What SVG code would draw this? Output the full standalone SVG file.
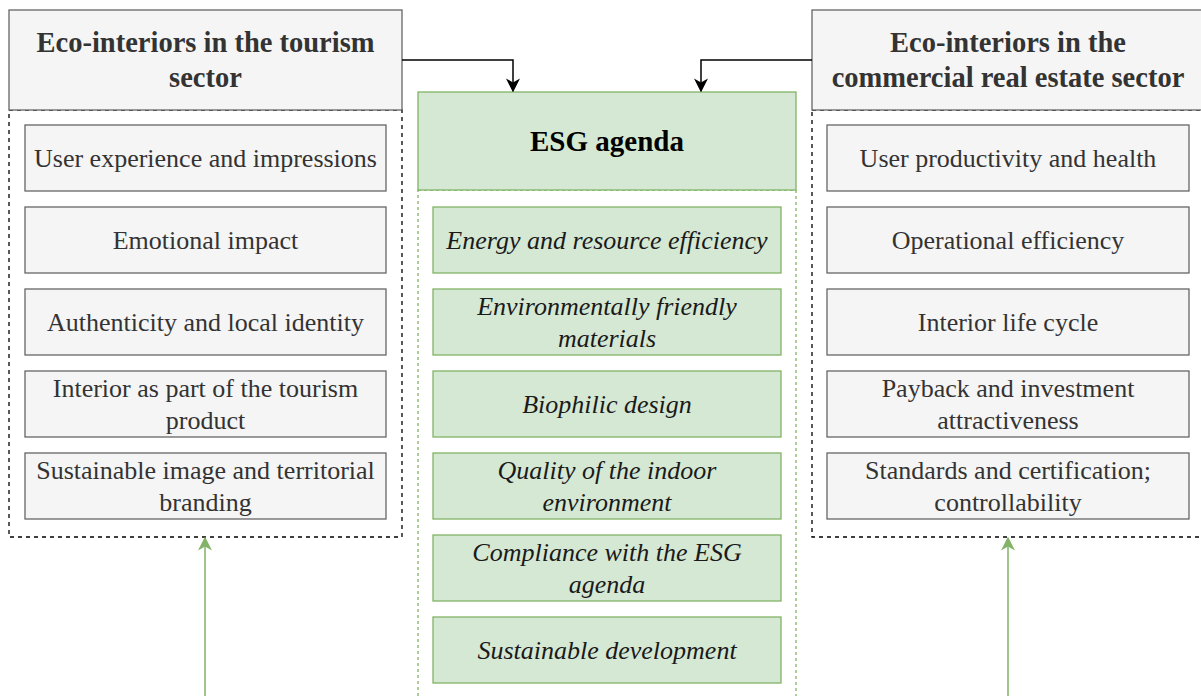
<svg xmlns="http://www.w3.org/2000/svg" width="1201" height="696" viewBox="0 0 1201 696">
  <style>
    .hdr { fill: #f5f5f5; stroke: #666666; stroke-width: 1.3; }
    .item { fill: #f5f5f5; stroke: #666666; stroke-width: 1.3; }
    .gitem { fill: #d5e8d4; stroke: #82b366; stroke-width: 1.3; }
    .dash { fill: none; stroke: #000000; stroke-width: 1.3; stroke-dasharray: 4 4; }
    .gdash { fill: none; stroke: #82b366; stroke-width: 1.3; stroke-dasharray: 3 3; }
    .htxt { font-family: "Liberation Serif", "Times New Roman", serif; font-weight: bold; font-size: 28.5px; fill: #333333; text-anchor: middle; }
    .ttxt { font-family: "Liberation Serif", "Times New Roman", serif; font-size: 26px; fill: #333333; text-anchor: middle; }
    .itxt { font-family: "Liberation Serif", "Times New Roman", serif; font-style: italic; font-size: 26px; fill: #1a1a1a; text-anchor: middle; }
    .etxt { font-family: "Liberation Serif", "Times New Roman", serif; font-weight: bold; font-size: 29px; fill: #000000; text-anchor: middle; }
    .conn { fill: none; stroke: #000000; stroke-width: 1.5; }
    .gconn { fill: none; stroke: #82b366; stroke-width: 1.5; }
  </style>
  <defs>
    <marker id="arrowBlack" viewBox="0 0 10 10" refX="9" refY="5" markerWidth="14" markerHeight="14" markerUnits="userSpaceOnUse" orient="auto">
      <path d="M0,0 L10,5 L0,10 L3,5 Z" fill="#000000"/>
    </marker>
    <marker id="arrowGreen" viewBox="0 0 10 10" refX="9" refY="5" markerWidth="14" markerHeight="14" markerUnits="userSpaceOnUse" orient="auto">
      <path d="M0,0 L10,5 L0,10 L3,5 Z" fill="#82b366"/>
    </marker>
  </defs>

  <rect width="1201" height="696" fill="#ffffff"/>

  <!-- Tourism sector column -->
  <g id="tourism">
    <rect class="dash" x="9" y="110" width="393" height="427"/>
    <rect class="hdr" x="9" y="10" width="393" height="100"/>
    <text class="htxt" x="205.5" y="52">Eco-interiors in the tourism</text>
    <text class="htxt" x="205.5" y="87">sector</text>
  </g>
  <g id="t1"><rect class="item" x="25" y="125" width="361" height="66"/><text class="ttxt" x="205.5" y="167">User experience and impressions</text></g>
  <g id="t2"><rect class="item" x="25" y="207" width="361" height="66"/><text class="ttxt" x="205.5" y="249">Emotional impact</text></g>
  <g id="t3"><rect class="item" x="25" y="289" width="361" height="66"/><text class="ttxt" x="205.5" y="331">Authenticity and local identity</text></g>
  <g id="t4"><rect class="item" x="25" y="371" width="361" height="66"/><text class="ttxt" x="205.5" y="397">Interior as part of the tourism</text><text class="ttxt" x="205.5" y="429">product</text></g>
  <g id="t5"><rect class="item" x="25" y="453" width="361" height="66"/><text class="ttxt" x="205.5" y="479">Sustainable image and territorial</text><text class="ttxt" x="205.5" y="511">branding</text></g>

  <!-- ESG agenda column -->
  <g id="esg">
    <rect class="gdash" x="418" y="190" width="378" height="520"/>
    <rect class="gitem" x="418" y="92" width="378" height="98"/>
    <text class="etxt" x="607" y="151">ESG agenda</text>
  </g>
  <g id="e1"><rect class="gitem" x="433" y="207" width="348" height="66"/><text class="itxt" x="607" y="249">Energy and resource efficiency</text></g>
  <g id="e2"><rect class="gitem" x="433" y="289" width="348" height="66"/><text class="itxt" x="607" y="315">Environmentally friendly</text><text class="itxt" x="607" y="347">materials</text></g>
  <g id="e3"><rect class="gitem" x="433" y="371" width="348" height="66"/><text class="itxt" x="607" y="413">Biophilic design</text></g>
  <g id="e4"><rect class="gitem" x="433" y="453" width="348" height="66"/><text class="itxt" x="607" y="479">Quality of the indoor</text><text class="itxt" x="607" y="511">environment</text></g>
  <g id="e5"><rect class="gitem" x="433" y="535" width="348" height="66"/><text class="itxt" x="607" y="561">Compliance with the ESG</text><text class="itxt" x="607" y="593">agenda</text></g>
  <g id="e6"><rect class="gitem" x="433" y="617" width="348" height="66"/><text class="itxt" x="607" y="659">Sustainable development</text></g>

  <!-- Commercial real estate column -->
  <g id="commercial">
    <rect class="dash" x="812" y="110" width="392" height="427"/>
    <rect class="hdr" x="812" y="10" width="392" height="100"/>
    <text class="htxt" x="1008" y="52">Eco-interiors in the</text>
    <text class="htxt" x="1008" y="87">commercial real estate sector</text>
  </g>
  <g id="c1"><rect class="item" x="827" y="125" width="362" height="66"/><text class="ttxt" x="1008" y="167">User productivity and health</text></g>
  <g id="c2"><rect class="item" x="827" y="207" width="362" height="66"/><text class="ttxt" x="1008" y="249">Operational efficiency</text></g>
  <g id="c3"><rect class="item" x="827" y="289" width="362" height="66"/><text class="ttxt" x="1008" y="331">Interior life cycle</text></g>
  <g id="c4"><rect class="item" x="827" y="371" width="362" height="66"/><text class="ttxt" x="1008" y="397">Payback and investment</text><text class="ttxt" x="1008" y="429">attractiveness</text></g>
  <g id="c5"><rect class="item" x="827" y="453" width="362" height="66"/><text class="ttxt" x="1008" y="479">Standards and certification;</text><text class="ttxt" x="1008" y="511">controllability</text></g>

  <!-- Connectors -->
  <g id="connectors">
    <path class="conn" d="M402,60 H513 V91" marker-end="url(#arrowBlack)"/>
    <path class="conn" d="M812,60 H701 V91" marker-end="url(#arrowBlack)"/>
    <path class="gconn" d="M205,696 V538" marker-end="url(#arrowGreen)"/>
    <path class="gconn" d="M1008,696 V538" marker-end="url(#arrowGreen)"/>
  </g>
</svg>
